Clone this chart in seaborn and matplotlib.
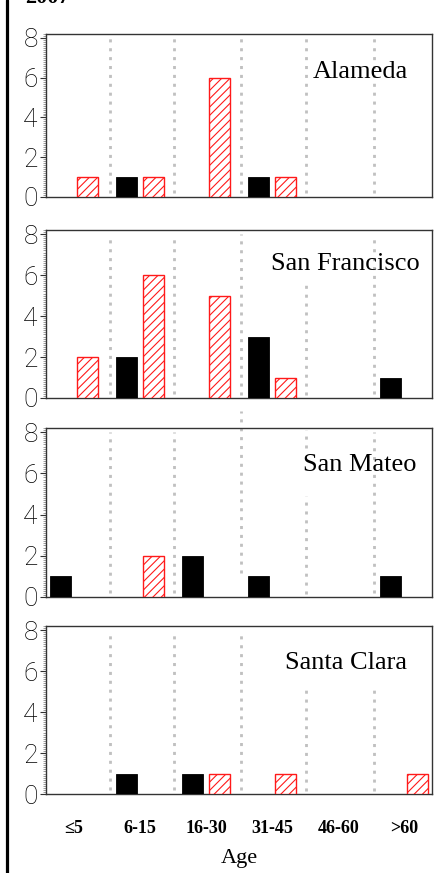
import matplotlib
matplotlib.use("Agg")
import matplotlib.pyplot as plt
from matplotlib.lines import Line2D
from matplotlib.ticker import MultipleLocator
import seaborn as sns
import pandas as pd

# Age groups and counts per county
age_groups = ["\u22645", "6-15", "16-30", "31-45", "46-60", ">60"]
counties = ["Alameda", "San Francisco", "San Mateo", "Santa Clara"]
series_names = ["solid", "hatched"]

alameda_solid = [0, 1, 0, 1, 0, 0]
alameda_hatched = [1, 1, 6, 1, 0, 0]
sanfrancisco_solid = [0, 2, 0, 3, 0, 1]
sanfrancisco_hatched = [2, 6, 5, 1, 0, 0]
sanmateo_solid = [1, 0, 2, 1, 0, 1]
sanmateo_hatched = [0, 2, 0, 0, 0, 0]
santaclara_solid = [0, 1, 1, 0, 0, 0]
santaclara_hatched = [0, 0, 1, 1, 0, 1]

county_values = {
    "Alameda": (alameda_solid, alameda_hatched),
    "San Francisco": (sanfrancisco_solid, sanfrancisco_hatched),
    "San Mateo": (sanmateo_solid, sanmateo_hatched),
    "Santa Clara": (santaclara_solid, santaclara_hatched),
}

y_ticks = [0, 2, 4, 6, 8]

rows = []
for county in counties:
    solid, hatched = county_values[county]
    for i, age in enumerate(age_groups):
        rows.append({"county": county, "age": age, "series": "solid", "count": solid[i]})
        rows.append({"county": county, "age": age, "series": "hatched", "count": hatched[i]})
df = pd.DataFrame(rows)

sns.set_theme(style="white")
plt.rcParams["hatch.linewidth"] = 0.8

W, H = 434, 873
fig = plt.figure(figsize=(W / 100, H / 100), dpi=100)

# panel frames in pixels: (top, bottom)
frames = [(34, 197), (230, 398), (428, 597), (626, 794)]
left_px, right_px = 46, 432

# label placement (axes fraction, right-aligned)
label_pos = [(0.938, 0.767), (0.969, 0.80), (0.961, 0.78), (0.935, 0.78)]

# dotted separators between age groups
sep_x = [0.55, 1.52, 2.53, 3.51, 4.55]
full = (0.025, 0.975)
sep_segments = [
    [(x, *full) for x in sep_x],
    [(0.55, *full), (1.52, *full), (2.53, 0.02, 0.975), (3.51, 0.02, 0.67), (4.55, *full)],
    [(0.55, *full), (1.52, *full), (2.53, 0.14, 1.10), (3.51, 0.02, 0.60),
     (3.51, 0.88, 0.99), (4.55, *full)],
    [(0.55, *full), (1.52, *full), (2.53, *full), (3.51, 0.02, 0.63), (4.55, 0.02, 0.63)],
]

serif = ["Liberation Serif", "DejaVu Serif"]

for k, county in enumerate(counties):
    top, bot = frames[k]
    ax = fig.add_axes([left_px / W, 1 - bot / H, (right_px - left_px) / W, (bot - top) / H])
    sub = df[df["county"] == county]
    sns.barplot(data=sub, x="age", y="count", hue="series", order=age_groups,
                hue_order=series_names, palette={"solid": "black", "hatched": "white"},
                width=0.82, gap=0.22, errorbar=None, legend=False, ax=ax,
                saturation=1, linewidth=0)
    for patch in ax.containers[0]:
        patch.set_edgecolor("black")
        patch.set_linewidth(0.6)
        patch.set_zorder(3)
        if patch.get_height() == 0:
            patch.set_visible(False)
    for patch in ax.containers[1]:
        patch.set_facecolor("white")
        patch.set_edgecolor("#ff1a1a")
        patch.set_hatch("////")
        patch.set_linewidth(1.0)
        patch.set_zorder(3)
        if patch.get_height() == 0:
            patch.set_visible(False)

    for x, y0, y1 in sep_segments[k]:
        ax.axvline(x, ymin=y0, ymax=y1, color="#c0c0c0", lw=2.0,
                   ls=(0, (1.1, 2.1)), zorder=1, clip_on=False)

    ax.set_xlim(-0.42, 5.42)
    ax.set_ylim(0, 8.2)
    ax.set_yticks(y_ticks)
    ax.yaxis.set_minor_locator(MultipleLocator(0.1))
    ax.tick_params(axis="y", which="major", left=True, length=4, width=0.8,
                   color="#333333", pad=2, labelsize=19)
    ax.tick_params(axis="y", which="minor", left=True, length=2, width=0.4,
                   color="#555555")
    for lab in ax.get_yticklabels():
        lab.set_family(["Roboto", "DejaVu Sans"])
        lab.set_fontweight("light")
        lab.set_color("black")
    ax.set_ylabel("")
    ax.set_xlabel("")
    for s in ax.spines.values():
        s.set_visible(True)
        s.set_color("#333333")
        s.set_linewidth(1.0)

    if k < 3:
        ax.set_xticklabels([])
        ax.tick_params(axis="x", bottom=False, labelbottom=False)
    else:
        ax.tick_params(axis="x", bottom=False, pad=13)
        ax.set_xticks(range(len(age_groups)))
        ax.set_xticklabels(age_groups, family=serif, fontweight="bold", fontsize=13,
                           color="black")
        ax.set_xlabel("Age", family=serif, fontsize=16, color="black", labelpad=8)

    lx, ly = label_pos[k]
    ax.text(lx, ly, county, transform=ax.transAxes, ha="right", va="center",
            family=serif, fontsize=19, color="black", zorder=5)

# heavy rule along the left edge
fig.add_artist(Line2D([6.5 / W, 6.5 / W], [0, 1], transform=fig.transFigure,
                      color="black", lw=2.3))
# year caption running off the top edge
fig.text(25 / W, 1 - 3 / H, "2007", family=serif, fontweight="bold", fontsize=16,
         ha="left", va="baseline", color="black")

fig.savefig("out.png", dpi=100)
